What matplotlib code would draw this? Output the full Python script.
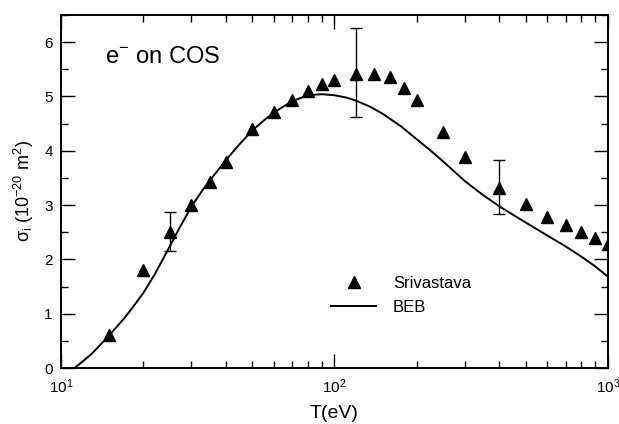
import matplotlib
matplotlib.use('Agg')
import matplotlib.pyplot as plt
from matplotlib.ticker import LogLocator, MultipleLocator, NullFormatter

plt.rcParams['font.family'] = ['Liberation Sans', 'DejaVu Sans']
plt.rcParams['mathtext.fontset'] = 'custom'
plt.rcParams['mathtext.rm'] = 'Liberation Sans'
plt.rcParams['mathtext.it'] = 'Liberation Sans'

# Srivastava measurements (T in eV, sigma in 1e-20 m^2)
t_exp = [15, 20, 25, 30, 35, 40, 50, 60, 70, 80, 90, 100, 120, 140, 160, 180,
         200, 250, 300, 400, 500, 600, 700, 800, 900, 1000]
s_exp = [0.60, 1.80, 2.50, 3.00, 3.43, 3.80, 4.40, 4.72, 4.93, 5.10, 5.22, 5.30,
         5.41, 5.42, 5.36, 5.16, 4.94, 4.35, 3.89, 3.31, 3.02, 2.78, 2.63, 2.50,
         2.40, 2.29]

# error bars shown on a few points
t_err = [25, 120, 400]
s_err = [2.50, 5.41, 3.31]
err_lo = [0.35, 0.79, 0.47]
err_hi = [0.38, 0.84, 0.52]

# BEB curve
t_beb = [11.2, 12, 13, 14, 15, 16, 17, 18, 20, 22, 25, 27, 30, 33, 35, 40, 45,
         50, 55, 60, 70, 80, 90, 100, 110, 120, 135, 150, 175, 200, 225, 250,
         300, 350, 400, 450, 500, 600, 700, 800, 900, 1000]
s_beb = [0.0, 0.12, 0.27, 0.44, 0.60, 0.76, 0.91, 1.07, 1.38, 1.72, 2.24, 2.56,
         2.97, 3.28, 3.45, 3.82, 4.12, 4.37, 4.55, 4.70, 4.91, 5.02, 5.04, 5.02,
         4.98, 4.92, 4.81, 4.68, 4.45, 4.21, 4.00, 3.80, 3.44, 3.18, 2.98, 2.82,
         2.68, 2.44, 2.24, 2.05, 1.87, 1.68]

fig = plt.figure(figsize=(6.19, 4.24), dpi=100)
ax = fig.add_axes([0.0985, 0.132, 0.8835, 0.833])

line, = ax.plot(t_beb, s_beb, color='black', lw=1.4, label='BEB')
ax.errorbar(t_err, s_err, yerr=[err_lo, err_hi], fmt='none', ecolor='black',
            elinewidth=1.0, capsize=4.5, capthick=1.0)
pts, = ax.plot(t_exp, s_exp, '^', color='black', ms=8, ls='none',
               label='Srivastava')

ax.set_xscale('log')
ax.set_xlim(10, 1000)
ax.set_ylim(0, 6.5)
ax.yaxis.set_major_locator(MultipleLocator(1))
ax.yaxis.set_minor_locator(MultipleLocator(0.5))
ax.xaxis.set_minor_locator(LogLocator(base=10, subs=range(2, 10)))
ax.xaxis.set_minor_formatter(NullFormatter())

ax.tick_params(which='both', direction='in', top=True, right=True,
               labelsize=11, width=1.0)
ax.tick_params(which='major', length=10)
ax.tick_params(which='minor', length=5)
ax.tick_params(axis='x', pad=7)
ax.tick_params(axis='y', pad=6)
for sp in ax.spines.values():
    sp.set_linewidth(1.4)

ax.set_xlabel('T(eV)', fontsize=14, labelpad=6)
ax.set_ylabel(r'$\sigma_\mathrm{i}$ (10$^{-20}$ m$^2$)', fontsize=13, labelpad=6)

ax.text(0.08, 0.88, r'e$^{\mathrm{-}}$ on COS', transform=ax.transAxes,
        fontsize=17, va='center', ha='left')

ax.legend(handles=[pts, line], loc='upper left', bbox_to_anchor=(0.494, 0.26),
          frameon=False, fontsize=12, numpoints=1, handlelength=2.7,
          handletextpad=1.0, labelspacing=0.5, borderpad=0, borderaxespad=0)

fig.savefig('out.png', dpi=100)
